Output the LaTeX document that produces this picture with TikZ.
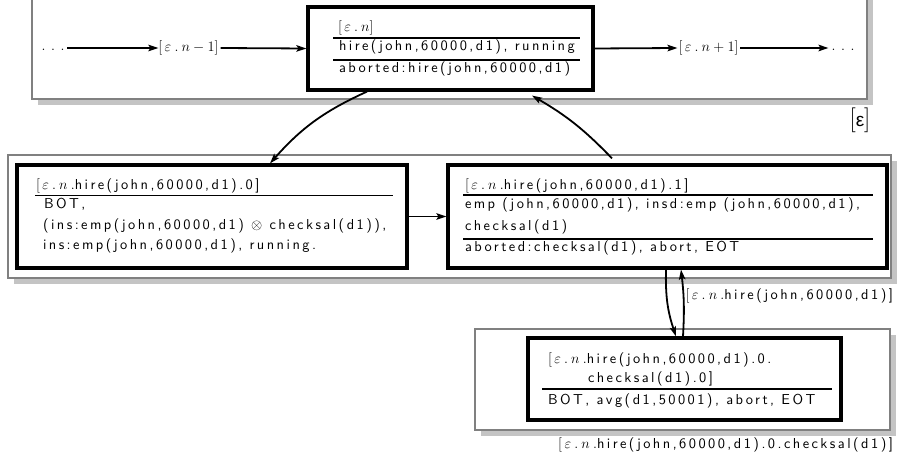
\documentclass[tikz,border=0pt]{standalone}
\usepackage{fontspec}
\setsansfont{lmsans10-regular.otf}[LetterSpace=17]
\newfontfamily\epsfont{Liberation Sans}
\usetikzlibrary{arrows.meta}
\definecolor{bordergray}{gray}{0.5}
\definecolor{shadowgray}{gray}{0.77}
\newcommand\en{\mkern3mu\varepsilon\mkern4mu.\mkern4mu n}
\newcommand\ttl{$[\en\mkern4mu.$}
\tikzset{
  txt/.style={font=\sffamily\fontsize{14.4}{18}\selectfont, inner sep=0pt, outer sep=0pt},
  innerbox/.style={draw=black, line width=3.2pt, fill=white, inner sep=0pt},
  outerbox/.style={draw=bordergray, line width=2pt, fill=white},
  shadowbox/.style={fill=shadowgray},
  arr/.style={line width=1.8pt, -{Stealth[length=10pt,width=6.5pt,inset=2pt]}},
  txtrule/.style={line width=1.6pt}
}
\begin{document}
\begin{tikzpicture}[x=1pt,y=-1pt]
\useasboundingbox (0,0) rectangle (898,465);
% outer boxes with shadows
\fill[shadowbox] (38,-4) rectangle (873,105);
\draw[outerbox] (32,-10) rectangle (867,99);
\fill[shadowbox] (14,161) rectangle (897,284);
\draw[outerbox] (8,155) rectangle (891,278);
\fill[shadowbox] (481,335) rectangle (896,436);
\draw[outerbox] (475,329) rectangle (890,430);
% inner nodes
\node[innerbox, minimum width=285pt, minimum height=83pt] (T) at (450.5,48.5) {};
\node[innerbox, minimum width=390pt, minimum height=103pt] (L) at (212,216.5) {};
\node[innerbox, minimum width=439pt, minimum height=103pt] (R) at (667.5,216.5) {};
\node[innerbox, minimum width=313pt, minimum height=82pt] (B) at (684.5,379) {};
% top node text
\node[txt, anchor=base west] (t1) at (338,31.5) {$[\en]$};
\draw[txtrule] (333,38) -- (580,38);
\node[txt, anchor=base west] (t2) at (339,51) {hire(john,60000,d1), running};
\draw[txtrule] (333,60) -- (580,60);
\node[txt, anchor=base west] (t3) at (339,72.5) {aborted:hire(john,60000,d1)};
% left node text
\node[txt, anchor=base west] (l1) at (36,189.5) {\ttl hire(john,60000,d1).0]};
\draw[txtrule] (35,195.5) -- (393,195.5);
\node[txt, anchor=base west] (l2) at (44,209) {BOT,};
\node[txt, anchor=base west] (l3) at (43,230) {(ins:emp(john,60000,d1) $\otimes$ checksal(d1)),};
\node[txt, anchor=base west] (l4) at (43,250) {ins:emp(john,60000,d1), running.};
% right node text
\node[txt, anchor=base west] (r1) at (465,189.5) {\ttl hire(john,60000,d1).1]};
\draw[txtrule] (463,195) -- (873,195);
\node[txt, anchor=base west] (r2) at (465,208.5) {emp (john,60000,d1), insd:emp (john,60000,d1),};
\node[txt, anchor=base west] (r3) at (465,231) {checksal(d1)};
\draw[txtrule] (463,239) -- (873,239);
\node[txt, anchor=base west] (r4) at (465,252) {aborted:checksal(d1), abort, EOT};
% bottom node text
\node[txt, anchor=base west] (b1) at (548,363) {\ttl hire(john,60000,d1).0.};
\node[txt, anchor=base west] (b2) at (588,382) {checksal(d1).0]};
\draw[txtrule] (542,389) -- (832,389);
\node[txt, anchor=base west] (b3) at (548,404) {BOT, avg(d1,50001), abort, EOT};
% labels
\node[txt] (eps) at (860,120) {{\fontsize{24.88}{26}\selectfont$[$}{\epsfont\fontsize{19}{20}\selectfont ε}{\fontsize{24.88}{26}\selectfont$]$}};
\node[txt, anchor=base east] (lab1) at (893,300) {\ttl hire(john,60000,d1)]};
\node[txt, anchor=base east] (lab2) at (893,448) {\ttl hire(john,60000,d1).0.checksal(d1)]};
% main row
\node[txt, anchor=base] (d1) at (53,51) {$.\mkern7mu.\mkern7mu.$};
\node[txt] (n1) at (188.5,48) {$[\en-1]$};
\node[txt] (n2) at (708.5,48) {$[\en+1]$};
\node[txt, anchor=base] (d2) at (843,51) {$.\mkern7mu.\mkern7mu.$};
\draw[arr] ([xshift=3pt]d1.east |- n1.west) -- (n1.west);
\draw[arr] ([xshift=2pt]n1.east) -- (T.west);
\draw[arr] (T.east) -- ([xshift=-1pt]n2.west);
\draw[arr] ([xshift=2pt]n2.east) -- ([xshift=-3pt]n2.east -| d2.west);
% connectors
\draw[arr] (L.east) -- (R.west);
\draw[arr] ([xshift=-83.5pt]T.south) to[bend right=12] ([xshift=58pt]L.north);
\draw[arr] ([xshift=-55.5pt,yshift=5pt]R.north) to[bend right=8] ([xshift=81.5pt,yshift=-4pt]T.south);
\draw[arr] ([xshift=-1.5pt]R.south) to[bend right=10] ([xshift=-8.5pt]B.north);
\draw[arr] ([xshift=-1.5pt]B.north) to[bend right=5] ([xshift=13.5pt]R.south);
\end{tikzpicture}
\end{document}
